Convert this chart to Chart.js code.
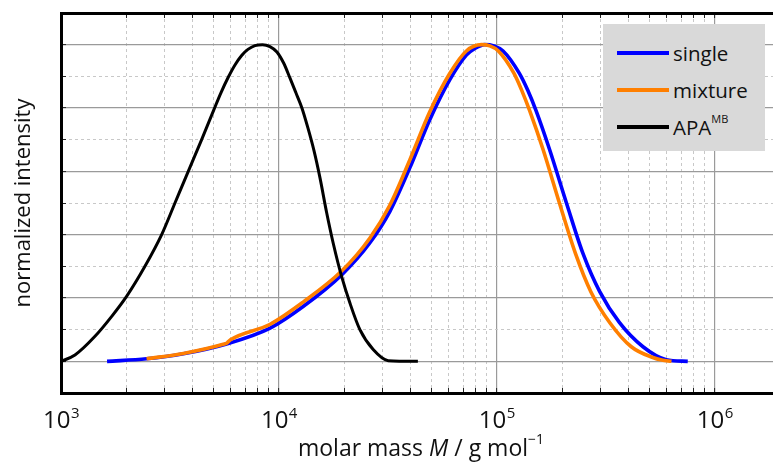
<!DOCTYPE html>
<html>
<head>
<meta charset="utf-8">
<script src="https://cdn.jsdelivr.net/npm/chart.js@4.4.1/dist/chart.umd.min.js"></script>
<style>
  html, body { margin: 0; padding: 0; background: #ffffff; }
  #wrap { position: relative; width: 773px; height: 464px; overflow: hidden; }
  #legend { position: absolute; left: 603px; top: 24px; width: 162px; height: 127px;
            background: #d9d9d9; font-family: "Open Sans", sans-serif; font-size: 20.5px; color: #111; }
  .item { position: absolute; left: 14px; height: 30px; line-height: 30px; display: flex; align-items: center; white-space: nowrap; }
  .swatch { width: 52px; height: 4px; margin-right: 4px; }
  .item sup { font-size: 11px; vertical-align: 12px; line-height: 0; }
</style>
</head>
<body>
<div id="wrap">
  <canvas id="c" width="773" height="464"></canvas>
  <div id="legend"></div>
</div>
<script>
// ---------------- data ----------------
const decadeExponents = [3, 4, 5, 6];
const minorSteps = [1, 2, 3, 4, 5, 6, 7, 8, 9];
const yTenths = [-1, 0, 1, 2, 3, 4, 5, 6, 7, 8, 9, 10, 11];
const xMin = 1000, xMax = 1.85e6;
const yMin = -0.1, yMax = 1.1;

const seriesLabels = ['single', 'mixture', 'APA'];
const seriesLabelSup = ['', '', 'MB'];
const seriesColors = ['#0000ff', '#ff7f00', '#000000'];

const singleM = [1627, 2470, 3644, 5750, 9112, 12912, 19393, 26063, 32270, 39860, 49230, 60670, 72460, 79280, 87900, 96880, 106800, 126700, 138800, 151600, 174700, 208600, 248600, 296500, 365500, 468300, 599000, 751600];
const singleI = [0.0, 0.008, 0.024, 0.055, 0.105, 0.173, 0.273, 0.373, 0.473, 0.611, 0.763, 0.888, 0.967, 0.988, 1.0, 0.996, 0.98, 0.91, 0.855, 0.79, 0.668, 0.50, 0.34, 0.22, 0.122, 0.046, 0.005, 0.0];

const mixtureM = [2470, 3644, 5554, 5775, 5993, 9112, 12912, 19393, 26063, 32270, 39860, 49230, 60670, 72460, 85090, 92880, 101600, 119700, 130200, 141700, 163100, 193700, 229600, 269900, 329900, 414000, 519500, 571300, 633100];
const mixtureI = [0.008, 0.025, 0.054, 0.058, 0.068, 0.117, 0.187, 0.285, 0.388, 0.493, 0.636, 0.788, 0.908, 0.98, 1.0, 0.996, 0.98, 0.91, 0.855, 0.79, 0.668, 0.50, 0.34, 0.22, 0.122, 0.046, 0.012, 0.004, 0.0];

const apaM = [1000, 1159, 1432, 1709, 2000, 2428, 2897, 3334, 3837, 4420, 5032, 5418, 5853, 6284, 6744, 7208, 7762, 8410, 9094, 9790, 10510, 11232, 11967, 12750, 13583, 14475, 15424, 16552, 17748, 19393, 21174, 23528, 27076, 31726, 43414];
const apaI = [0.0, 0.02, 0.079, 0.142, 0.205, 0.30, 0.40, 0.50, 0.60, 0.70, 0.795, 0.848, 0.897, 0.936, 0.966, 0.985, 0.997, 1.0, 0.994, 0.977, 0.942, 0.895, 0.848, 0.80, 0.737, 0.666, 0.58, 0.47, 0.373, 0.268, 0.184, 0.10, 0.037, 0.002, 0.0];

// ---------------- helpers ----------------
const FONT = '"Open Sans"';
const majorGrid = '#9a9a9a';
const minorGrid = '#c8c8c8';
const textColor = '#111111';

const xTickValues = decadeExponents.flatMap(e => minorSteps.map(m => m * Math.pow(10, e)))
  .filter(v => v >= xMin && v <= xMax);
const yTickValues = yTenths.map(t => t / 10);

function isDecade(v) { const l = Math.log10(v); return Math.abs(l - Math.round(l)) < 1e-9; }
function isMajorY(v) { return Math.round(v * 10) % 2 === 0; }
function pts(xs, ys) { return xs.map((x, i) => ({ x: x, y: ys[i] })); }

const axisTextPlugin = {
  id: 'axisText',
  afterDraw(chart) {
    const ctx = chart.ctx;
    const xs = chart.scales.x;
    const ca = chart.chartArea;
    ctx.save();
    ctx.fillStyle = textColor;
    ctx.textBaseline = 'alphabetic';
    ctx.textAlign = 'left';
    // decade tick labels: 10^n
    decadeExponents.forEach(e => {
      const v = Math.pow(10, e);
      if (v < xs.min || v > xs.max) return;
      const px = xs.getPixelForValue(v);
      ctx.font = '24px ' + FONT; const wb = ctx.measureText('10').width;
      ctx.font = '15px ' + FONT; const we = ctx.measureText(String(e)).width;
      const start = px - (wb + we) / 2;
      ctx.font = '24px ' + FONT; ctx.fillText('10', start, xs.top + 35);
      ctx.font = '15px ' + FONT; ctx.fillText(String(e), start + wb + 0.5, xs.top + 24.5);
    });
    // axis title: molar mass M / g mol^-1
    const parts = [
      { t: 'molar mass ', f: '23px ' + FONT, dy: 0 },
      { t: 'M', f: 'italic 23px ' + FONT, dy: 0 },
      { t: ' / g mol', f: '23px ' + FONT, dy: 0 },
      { t: '\u22121', f: '14px ' + FONT, dy: -12 }
    ];
    let total = 0;
    parts.forEach(p => { ctx.font = p.f; p.w = ctx.measureText(p.t).width; total += p.w; });
    let x = (ca.left + ca.right) / 2 + 4 - total / 2;
    const base = xs.top + 63;
    parts.forEach(p => { ctx.font = p.f; ctx.fillText(p.t, x, base + p.dy); x += p.w; });
    ctx.restore();
  }
};

function xScale(position, onArea, h) {
  return {
    type: 'logarithmic',
    position: position,
    min: xMin,
    max: xMax,
    afterBuildTicks: s => { s.ticks = xTickValues.map(v => ({ value: v, major: isDecade(v) })); },
    afterFit: s => { s.height = h; },
    ticks: { display: false, autoSkip: false },
    grid: {
      drawOnChartArea: onArea,
      color: c => (c.tick && isDecade(c.tick.value)) ? majorGrid : minorGrid,
      lineWidth: c => (c.tick && isDecade(c.tick.value)) ? 1.2 : 1,
      drawTicks: true,
      tickLength: -5,
      tickColor: '#222222',
      tickWidth: 1
    },
    border: {
      display: true, color: '#000000', width: 3,
      dash: c => (c.tick && !isDecade(c.tick.value)) ? [3, 3] : []
    }
  };
}

function build() {
  const datasets = [
    { label: seriesLabels[0], labelSup: seriesLabelSup[0], data: pts(singleM, singleI), borderColor: seriesColors[0], borderWidth: 3.6, order: 2 },
    { label: seriesLabels[1], labelSup: seriesLabelSup[1], data: pts(mixtureM, mixtureI), borderColor: seriesColors[1], borderWidth: 3.6, order: 1 },
    { label: seriesLabels[2], labelSup: seriesLabelSup[2], data: pts(apaM, apaI), borderColor: seriesColors[2], borderWidth: 3, order: 0 }
  ].map(d => Object.assign(d, { showLine: true, pointRadius: 0, fill: false, cubicInterpolationMode: 'monotone', backgroundColor: d.borderColor }));

  const chart = new Chart(document.getElementById('c'), {
    type: 'scatter',
    data: { datasets: datasets },
    options: {
      responsive: false,
      devicePixelRatio: 1,
      animation: false,
      layout: { padding: 0 },
      plugins: { legend: { display: false }, tooltip: { enabled: false } },
      scales: {
        x: xScale('bottom', true, 71),
        x2: xScale('top', false, 13),
        y: {
          type: 'linear',
          position: 'left',
          min: yMin,
          max: yMax,
          afterBuildTicks: s => { s.ticks = yTickValues.map(v => ({ value: v })); },
          afterFit: s => { s.width = 61; },
          ticks: { display: false },
          title: { display: true, text: 'normalized intensity', color: textColor,
                   font: { family: 'Open Sans', size: 22 }, padding: { top: 11, bottom: 0 } },
          grid: {
            color: c => (c.tick && isMajorY(c.tick.value)) ? majorGrid : minorGrid,
            lineWidth: c => (c.tick && isMajorY(c.tick.value)) ? 1.2 : 1,
            drawTicks: true,
            tickLength: -5,
            tickColor: '#222222',
            tickWidth: 1
          },
          border: {
            display: true, color: '#000000', width: 3,
            dash: c => (c.tick && !isMajorY(c.tick.value)) ? [3, 3] : []
          }
        }
      }
    },
    plugins: [axisTextPlugin]
  });

  // HTML legend built from the chart's datasets
  const legendEl = document.getElementById('legend');
  chart.data.datasets.forEach((ds, i) => {
    const row = document.createElement('div');
    row.className = 'item';
    row.style.top = (14 + i * 37) + 'px';
    const sw = document.createElement('span');
    sw.className = 'swatch';
    sw.style.background = ds.borderColor;
    const tx = document.createElement('span');
    tx.textContent = ds.label;
    if (ds.labelSup) {
      const sup = document.createElement('sup');
      sup.textContent = ds.labelSup;
      tx.appendChild(sup);
    }
    row.appendChild(sw);
    row.appendChild(tx);
    legendEl.appendChild(row);
  });
}

Chart.defaults.font.family = 'Open Sans';
const fontLoads = ['22px "Open Sans"', 'italic 23px "Open Sans"', '24px "Open Sans"'].map(f => document.fonts.load(f).catch(() => null));
Promise.all(fontLoads).then(build, build);
</script>
</body>
</html>
